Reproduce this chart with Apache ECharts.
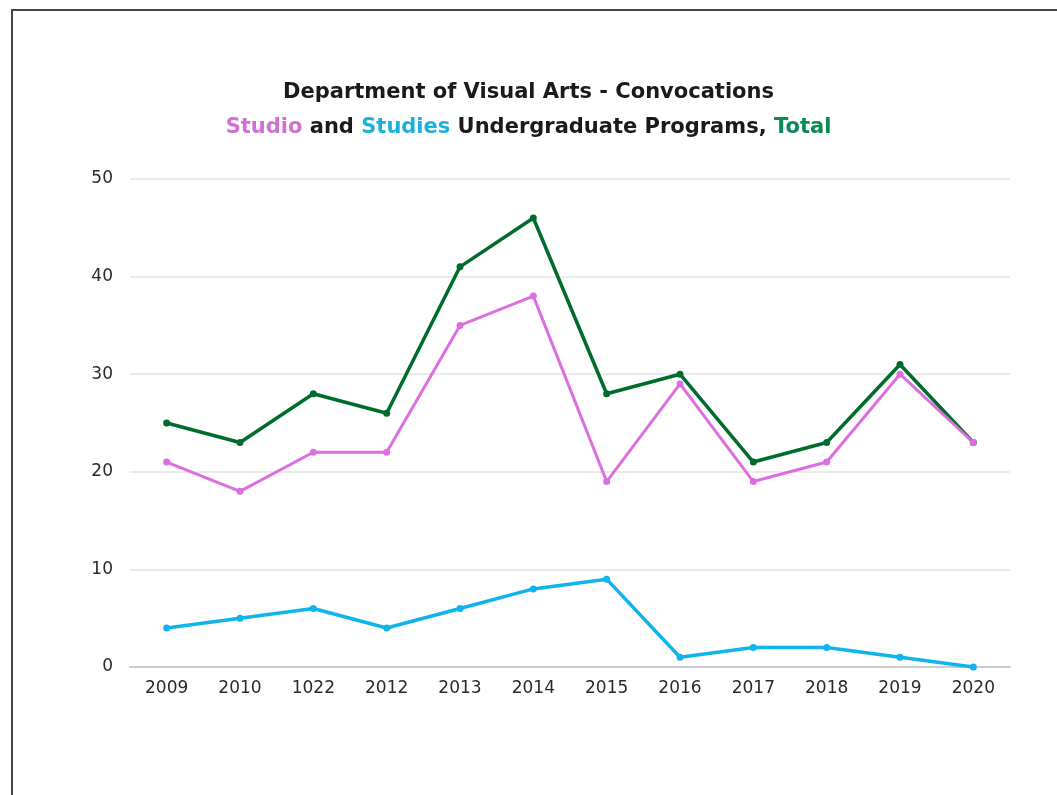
<!DOCTYPE html>
<html>
<head>
<meta charset="utf-8">
<script src="https://cdn.jsdelivr.net/npm/echarts@6/dist/echarts.min.js"></script>
<style>
  html, body { margin: 0; padding: 0; background: #fff; }
  .frame {
    position: absolute; left: 11px; top: 9px; width: 1100px; height: 900px;
    border: 2px solid #444; box-sizing: border-box;
  }
  #chart { position: absolute; left: 0; top: 0; width: 1057px; height: 795px; }
</style>
</head>
<body>
<div class="frame"></div>
<div id="chart"></div>
<script>
const years = ["2009", "2010", "1022", "2012", "2013", "2014", "2015", "2016", "2017", "2018", "2019", "2020"];
const studio = [21, 18, 22, 22, 35, 38, 19, 29, 19, 21, 30, 23];
const studies = [4, 5, 6, 4, 6, 8, 9, 1, 2, 2, 1, 0];
const total = [25, 23, 28, 26, 41, 46, 28, 30, 21, 23, 31, 23];

const colors = {
  studio: "#dc6fe0",
  studies: "#10b4ec",
  total: "#006c2c",
};

const chart = echarts.init(document.getElementById("chart"));

function lineSeries(name, data, color, width) {
  return {
    name: name,
    type: "line",
    data: data,
    symbol: "circle",
    symbolSize: 7,
    lineStyle: { color: color, width: width },
    itemStyle: { color: color },
  };
}

const titleFont = { fontFamily: "DejaVu Sans", fontSize: 21, fontWeight: "bold" };

chart.setOption({
  animation: false,
  title: {
    left: "center",
    top: 70,
    text: "Department of Visual Arts - Convocations\n{s|Studio} and {t|Studies} Undergraduate Programs, {g|Total}",
    textStyle: Object.assign({}, titleFont, {
      color: "#1a1a1a",
      lineHeight: 35,
      rich: {
        s: Object.assign({ color: "#d070d4" }, titleFont),
        t: Object.assign({ color: "#1ab2dc" }, titleFont),
        g: Object.assign({ color: "#0a8a55" }, titleFont),
      },
    }),
  },
  grid: { left: 130, right: 47, top: 179, bottom: 128 },
  xAxis: {
    type: "category",
    data: years,
    boundaryGap: true,
    axisLine: { lineStyle: { color: "#cccccc", width: 2 } },
    axisTick: { show: false },
    axisLabel: { color: "#2a2a2a", fontSize: 17, fontFamily: "DejaVu Sans", margin: 13 },
  },
  yAxis: {
    type: "value",
    min: 0,
    max: 50,
    interval: 10,
    axisLine: { show: false },
    axisTick: { show: false },
    splitLine: { lineStyle: { color: "#e4e4e4", width: 1.5 } },
    axisLabel: { color: "#2a2a2a", fontSize: 17, fontFamily: "DejaVu Sans", margin: 17 },
  },
  series: [
    lineSeries("Total", total, colors.total, 3.5),
    lineSeries("Studio", studio, colors.studio, 3),
    lineSeries("Studies", studies, colors.studies, 3.5),
  ],
});
</script>
</body>
</html>
